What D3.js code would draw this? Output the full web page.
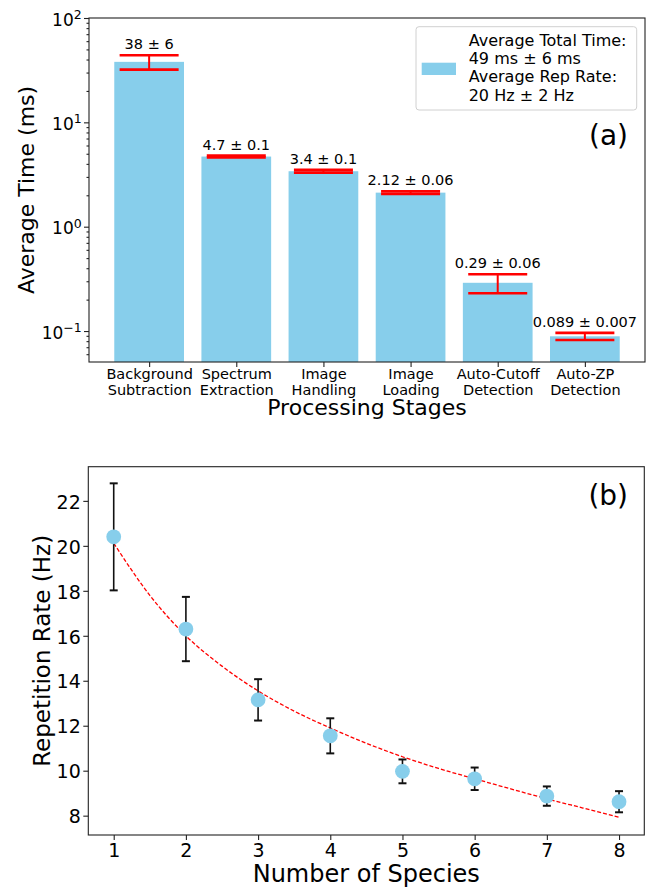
<!DOCTYPE html>
<html>
<head>
<meta charset="utf-8">
<script src="https://d3js.org/d3.v7.min.js"></script>
<style>
  body { margin: 0; background: white; }
  svg text { font-family: "DejaVu Sans", sans-serif; }
  .axis .domain { display: none; }
  .axis line { stroke: #222; stroke-width: 1.1; }
</style>
</head>
<body>
<svg id="fig" width="650" height="889" style="background: white;"></svg>
<script>
  // panel (a) data
  const stages = [["Background", "Subtraction"], ["Spectrum", "Extraction"], ["Image", "Handling"],
                  ["Image", "Loading"], ["Auto-Cutoff", "Detection"], ["Auto-ZP", "Detection"]];
  const avgTime = [38, 4.7, 3.4, 2.12, 0.29, 0.089];
  const timeErr = [6, 0.1, 0.1, 0.06, 0.06, 0.007];
  const timeLabels = ["38 ± 6", "4.7 ± 0.1", "3.4 ± 0.1", "2.12 ± 0.06", "0.29 ± 0.06", "0.089 ± 0.007"];
  const legendLines = ["Average Total Time:", "49 ms ± 6 ms", "Average Rep Rate:", "20 Hz ± 2 Hz"];
  const decades = [0.1, 1, 10, 100];

  // panel (b) data
  const species = [1, 2, 3, 4, 5, 6, 7, 8];
  const repRate = [20.4, 16.3, 13.15, 11.55, 9.97, 9.64, 8.87, 8.62];
  const repErr = [2.38, 1.43, 0.92, 0.78, 0.53, 0.5, 0.43, 0.47];
  const fitX = [1, 1.5, 2, 2.5, 3, 3.5, 4, 4.5, 5, 5.5, 6, 6.5, 7, 7.5, 8];
  const fitY = [20.12, 17.8, 16.0, 14.65, 13.55, 12.65, 11.9, 11.22, 10.62, 10.1, 9.64, 9.19, 8.75, 8.34, 7.93];
  const rateTicks = [8, 10, 12, 14, 16, 18, 20, 22];

  const barColor = "#87ceeb";
  let svg = d3.select("#fig");

  // ---------- panel (a) ----------
  const a = { left: 89, right: 645, top: 18, bottom: 362 };
  let xA = d3.scaleLinear().domain([-0.69, 5.69]).range([a.left, a.right]);
  let yA = d3.scaleLog().domain([0.0505, 100]).range([a.bottom, a.top]);
  let bw = xA(0.4) - xA(-0.4);

  let pa = svg.append("g").attr("id", "panelA");

  pa.selectAll("rect.bar").data(avgTime).join("rect")
    .attr("class", "bar")
    .attr("x", (d, i) => xA(i) - bw / 2)
    .attr("width", bw)
    .attr("y", d => yA(d))
    .attr("height", d => a.bottom - yA(d))
    .attr("fill", barColor);

  // red error bars with wide caps
  const capA = 29.5;
  avgTime.forEach((v, i) => {
    let cx = xA(i);
    let y1 = yA(v + timeErr[i]), y0 = yA(v - timeErr[i]);
    pa.append("line").attr("x1", cx).attr("x2", cx).attr("y1", y0).attr("y2", y1)
      .attr("stroke", "red").attr("stroke-width", 2);
    [y0, y1].forEach(y => {
      pa.append("line").attr("x1", cx - capA).attr("x2", cx + capA).attr("y1", y).attr("y2", y)
        .attr("stroke", "red").attr("stroke-width", 2.6);
    });
    pa.append("text").attr("x", cx).attr("y", y1 - 6)
      .attr("text-anchor", "middle").attr("font-size", 14.5).attr("fill", "#000")
      .text(timeLabels[i]);
  });

  pa.append("rect").attr("x", a.left).attr("y", a.top)
    .attr("width", a.right - a.left).attr("height", a.bottom - a.top)
    .attr("fill", "none").attr("stroke", "#222").attr("stroke-width", 1.1);

  // log y axis: major ticks with 10^n labels, minor ticks
  let minor = yA.ticks().filter(t => !decades.some(d => Math.abs(t - d) < d * 1e-6));
  pa.append("g").attr("class", "axis").attr("transform", `translate(${a.left},0)`)
    .call(d3.axisLeft(yA).tickValues(minor).tickSize(2.5).tickFormat(""));
  let yAxA = pa.append("g").attr("class", "axis").attr("transform", `translate(${a.left},0)`)
    .call(d3.axisLeft(yA).tickValues(decades).tickSize(5).tickPadding(2.3).tickFormat(""));
  yAxA.selectAll(".tick text").each(function (d) {
    let t = d3.select(this).attr("font-size", 17).attr("fill", "#000").attr("dy", "0.42em");
    let e = Math.round(Math.log10(d));
    t.append("tspan").text("10");
    t.append("tspan").attr("dy", -6.5).attr("font-size", 12.5).text(e < 0 ? "\u2212" + (-e) : String(e));
  });

  let xAxA = pa.append("g").attr("class", "axis").attr("transform", `translate(0,${a.bottom})`)
    .call(d3.axisBottom(xA).tickValues(d3.range(stages.length)).tickSize(5).tickFormat(""));
  xAxA.selectAll(".tick text").each(function (d) {
    let t = d3.select(this).attr("font-size", 14.5).attr("fill", "#000").attr("y", 0).attr("dy", null);
    stages[d].forEach((s, k) => {
      t.append("tspan").attr("x", 0).attr("y", 17 + 16 * k).text(s);
    });
  });

  pa.append("text").attr("x", (a.left + a.right) / 2).attr("y", 415)
    .attr("text-anchor", "middle").attr("font-size", 22).text("Processing Stages");
  pa.append("text").attr("transform", `translate(33.5,${(a.top + a.bottom) / 2}) rotate(-90)`)
    .attr("text-anchor", "middle").attr("font-size", 22).text("Average Time (ms)");

  // legend
  let lg = pa.append("g").attr("transform", "translate(416,26.7)");
  lg.append("rect").attr("width", 220.7).attr("height", 83.3).attr("rx", 3)
    .attr("fill", "white").attr("fill-opacity", 0.8).attr("stroke", "#d0d0d0");
  lg.append("rect").attr("x", 5.7).attr("y", 36).attr("width", 34.3).attr("height", 12.3).attr("fill", barColor);
  lg.selectAll("text").data(legendLines).join("text")
    .attr("x", 52.7).attr("y", (d, i) => 19 + 18.3 * i)
    .attr("font-size", 16).text(d => d);

  pa.append("text").attr("x", 628).attr("y", 145).attr("text-anchor", "end")
    .attr("font-size", 28).text("(a)");

  // ---------- panel (b) ----------
  const b = { left: 88.3, right: 644.3, top: 466.7, bottom: 835 };
  let xB = d3.scaleLinear().domain([0.648, 8.35]).range([b.left, b.right]);
  let yB = d3.scaleLinear().domain([7.14, 23.52]).range([b.bottom, b.top]);
  let pb = svg.append("g").attr("id", "panelB");

  pb.append("rect").attr("x", b.left).attr("y", b.top)
    .attr("width", b.right - b.left).attr("height", b.bottom - b.top)
    .attr("fill", "none").attr("stroke", "#222").attr("stroke-width", 1.1);

  pb.append("path")
    .datum(fitX.map((x, i) => [x, fitY[i]]))
    .attr("d", d3.line().x(d => xB(d[0])).y(d => yB(d[1])).curve(d3.curveMonotoneX))
    .attr("fill", "none").attr("stroke", "red").attr("stroke-width", 1.3)
    .attr("stroke-dasharray", "4,2");

  const capB = 4;
  species.forEach((s, i) => {
    let cx = xB(s);
    let y1 = yB(repRate[i] + repErr[i]), y0 = yB(repRate[i] - repErr[i]);
    pb.append("line").attr("x1", cx).attr("x2", cx).attr("y1", y0).attr("y2", y1)
      .attr("stroke", "#111").attr("stroke-width", 1.6);
    [y0, y1].forEach(y => {
      pb.append("line").attr("x1", cx - capB).attr("x2", cx + capB).attr("y1", y).attr("y2", y)
        .attr("stroke", "#111").attr("stroke-width", 2);
    });
  });

  pb.selectAll("circle").data(species).join("circle")
    .attr("cx", d => xB(d))
    .attr("cy", (d, i) => yB(repRate[i]))
    .attr("r", 7.4)
    .attr("fill", barColor);

  let yAxB = pb.append("g").attr("class", "axis").attr("transform", `translate(${b.left},0)`)
    .call(d3.axisLeft(yB).tickValues(rateTicks).tickSize(5).tickPadding(2.5));
  yAxB.selectAll(".tick text").attr("font-size", 19).attr("fill", "#000").attr("dy", "0.38em");
  let xAxB = pb.append("g").attr("class", "axis").attr("transform", `translate(0,${b.bottom})`)
    .call(d3.axisBottom(xB).tickValues(species).tickSize(5).tickPadding(3.5));
  xAxB.selectAll(".tick text").attr("font-size", 19).attr("fill", "#000");

  pb.append("text").attr("x", (b.left + b.right) / 2).attr("y", 881.5)
    .attr("text-anchor", "middle").attr("font-size", 24).text("Number of Species");
  pb.append("text").attr("transform", `translate(50,${(b.top + b.bottom) / 2}) rotate(-90)`)
    .attr("text-anchor", "middle").attr("font-size", 23).text("Repetition Rate (Hz)");

  pb.append("text").attr("x", 628).attr("y", 505).attr("text-anchor", "end")
    .attr("font-size", 28).text("(b)");
</script>
</body>
</html>
